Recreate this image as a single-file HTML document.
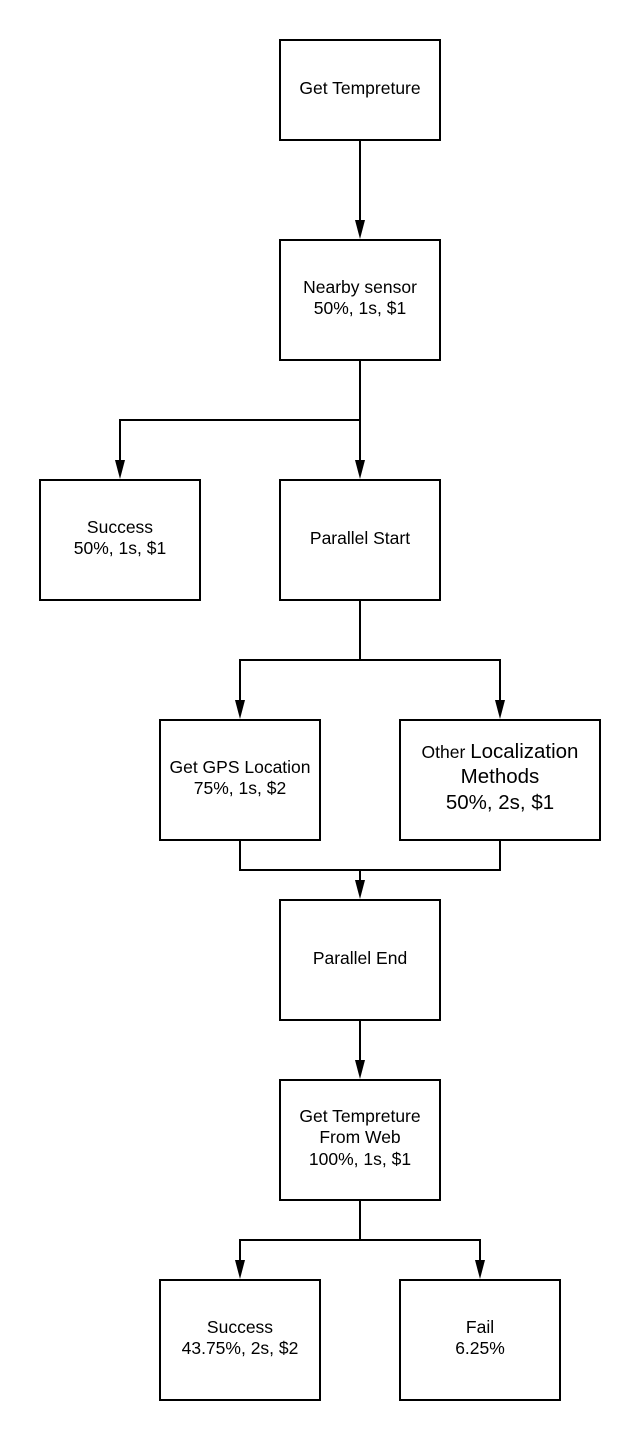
<!DOCTYPE html>
<html><head><meta charset="utf-8"><style>
html,body{margin:0;padding:0;background:#fff;}
svg{display:block;}
text{font-family:"Liberation Sans",sans-serif;font-size:17.5px;fill:#000;text-anchor:middle;}
</style></head><body>
<svg width="640" height="1440" viewBox="0 0 640 1440" xmlns="http://www.w3.org/2000/svg">
<g fill="none" stroke="#000" stroke-width="2">
<rect x="280" y="40" width="160" height="100"/>
<rect x="280" y="240" width="160" height="120"/>
<rect x="40" y="480" width="160" height="120"/>
<rect x="280" y="480" width="160" height="120"/>
<rect x="160" y="720" width="160" height="120"/>
<rect x="400" y="720" width="200" height="120"/>
<rect x="280" y="900" width="160" height="120"/>
<rect x="280" y="1080" width="160" height="120"/>
<rect x="160" y="1280" width="160" height="120"/>
<rect x="400" y="1280" width="160" height="120"/>
</g>
<g fill="none" stroke="#000" stroke-width="2">
<path d="M360 140 V222"/>
<path d="M360 360 V462"/>
<path d="M360 420 H120 V462"/>
<path d="M360 600 V660 H240 V702"/>
<path d="M360 660 H500 V702"/>
<path d="M240 840 V870 H500 V840"/>
<path d="M360 870 V882"/>
<path d="M360 1020 V1062"/>
<path d="M360 1200 V1240 H240 V1262"/>
<path d="M360 1240 H480 V1262"/>
</g>
<g fill="#000">
<polygon points="355,220 365,220 360,239"/>
<polygon points="355,460 365,460 360,479"/>
<polygon points="115,460 125,460 120,479"/>
<polygon points="235,700 245,700 240,719"/>
<polygon points="495,700 505,700 500,719"/>
<polygon points="355,880 365,880 360,899"/>
<polygon points="355,1060 365,1060 360,1079"/>
<polygon points="235,1260 245,1260 240,1279"/>
<polygon points="475,1260 485,1260 480,1279"/>
</g>
<text x="360" y="94">Get Tempreture</text>
<text x="360" y="293">Nearby sensor</text>
<text x="360" y="314">50%, 1s, $1</text>
<text x="120" y="533">Success</text>
<text x="120" y="554">50%, 1s, $1</text>
<text x="360" y="544">Parallel Start</text>
<text x="240" y="773">Get GPS Location</text>
<text x="240" y="794">75%, 1s, $2</text>
<text x="500" y="758"><tspan>Other </tspan><tspan style="font-size:20.5px">Localization</tspan></text>
<text x="500" y="783" style="font-size:20.5px">Methods</text>
<text x="500" y="809" style="font-size:20.5px">50%, 2s, $1</text>
<text x="360" y="964">Parallel End</text>
<text x="360" y="1122">Get Tempreture</text>
<text x="360" y="1143">From Web</text>
<text x="360" y="1165">100%, 1s, $1</text>
<text x="240" y="1333">Success</text>
<text x="240" y="1354">43.75%, 2s, $2</text>
<text x="480" y="1333">Fail</text>
<text x="480" y="1354">6.25%</text>
</svg>
</body></html>
